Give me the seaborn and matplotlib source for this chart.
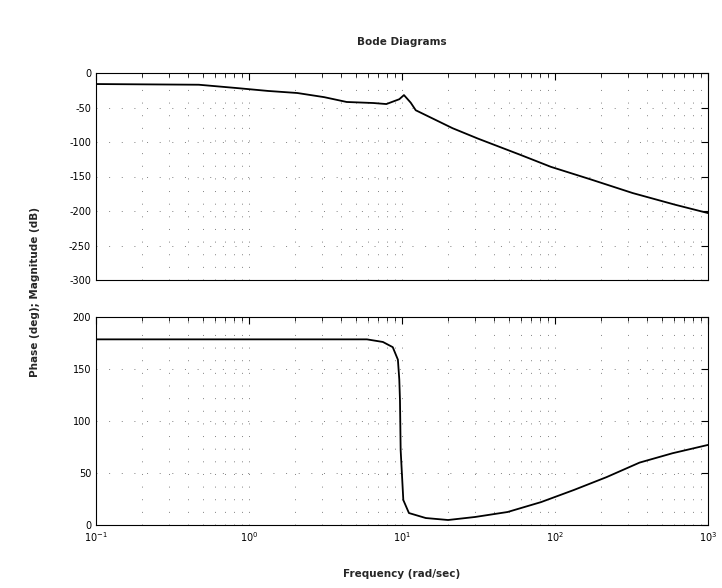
import numpy as np
import pandas as pd
import seaborn as sns
import matplotlib.pyplot as plt
from matplotlib.ticker import LogLocator, FixedLocator, NullFormatter

# values
mag_freq = [0.1, 0.47, 0.85, 1.33, 2.07, 3.1, 4.35, 6.5, 7.9, 9.6, 10.3, 11.4,
            12.3, 21.4, 31.3, 60, 94, 170, 322, 612, 1000]
mag_db = [-16, -17, -22, -26, -29, -35, -42, -43.5, -45, -38, -32, -43,
          -54, -80, -95, -119, -136, -154, -174, -191, -203]

phase_freq = [0.1, 1.0, 5.9, 7.5, 8.7, 9.4, 9.6, 9.7, 9.8, 10.2, 11.1, 14.3,
              20, 30, 49, 81, 133, 217, 357, 586, 1000]
phase_deg = [178.5, 178.5, 178.5, 176, 171, 159, 140, 120, 72, 24, 11.5, 6.7,
             4.8, 7.7, 12.5, 22, 33.7, 46, 60, 69, 77]

mag_ticks = [0, -50, -100, -150, -200, -250, -300]
phase_ticks = [0, 50, 100, 150, 200]
freq_ticks = [0.1, 1, 10, 100, 1000]
freq_labels = [r'$10^{-1}$', r'$10^{0}$', r'$10^{1}$', r'$10^{2}$', r'$10^{3}$']

mag = pd.DataFrame({'freq': mag_freq, 'dB': mag_db})
phase = pd.DataFrame({'freq': phase_freq, 'deg': phase_deg})

sns.set_style('white')
plt.rcParams['font.family'] = ['DejaVu Sans']

fig = plt.figure(figsize=(7.22, 5.88), dpi=100)
ax1 = fig.add_axes([96 / 722, 1 - 280 / 588, 612 / 722, 207 / 588])
ax2 = fig.add_axes([96 / 722, 1 - 525 / 588, 612 / 722, 208 / 588])

sns.lineplot(data=mag, x='freq', y='dB', ax=ax1, color='black', linewidth=1.3,
             sort=False, estimator=None)
sns.lineplot(data=phase, x='freq', y='deg', ax=ax2, color='black', linewidth=1.3,
             sort=False, estimator=None)

for ax, ticks, lim in [(ax1, mag_ticks, (-300, 0)), (ax2, phase_ticks, (0, 200))]:
    ax.set_xscale('log')
    ax.set_xlim(0.1, 1000)
    ax.set_ylim(*lim)
    ax.yaxis.set_major_locator(FixedLocator(ticks))
    ax.set_yticklabels([str(t) for t in ticks])
    ax.xaxis.set_major_locator(FixedLocator(freq_ticks))
    ax.xaxis.set_minor_locator(LogLocator(base=10, subs=np.arange(2, 10)))
    ax.xaxis.set_minor_formatter(NullFormatter())
    ax.tick_params(which='both', direction='in', top=True, right=True,
                   labelsize=7, colors='black')
    ax.tick_params(which='major', length=5)
    ax.tick_params(which='minor', length=3)
    ax.grid(True, which='both', color='0.5', linestyle=(0, (1, 12)), linewidth=0.7)
    for s in ax.spines.values():
        s.set_color('black')
        s.set_linewidth(0.8)
    ax.set_xlabel('')
    ax.set_ylabel('')

ax1.set_xticklabels([])
ax2.set_xticklabels(freq_labels)

fig.text(402 / 722, 1 - 42 / 588, 'Bode Diagrams', ha='center', va='center',
         fontsize=7.5, fontweight='bold')
fig.text(35 / 722, 1 - 292 / 588, 'Phase (deg); Magnitude (dB)', rotation=90,
         ha='center', va='center', fontsize=7.5, fontweight='bold')
fig.text(402 / 722, 1 - 574 / 588, 'Frequency (rad/sec)', ha='center', va='center',
         fontsize=7.5, fontweight='bold')

fig.savefig('out.png', dpi=100)
